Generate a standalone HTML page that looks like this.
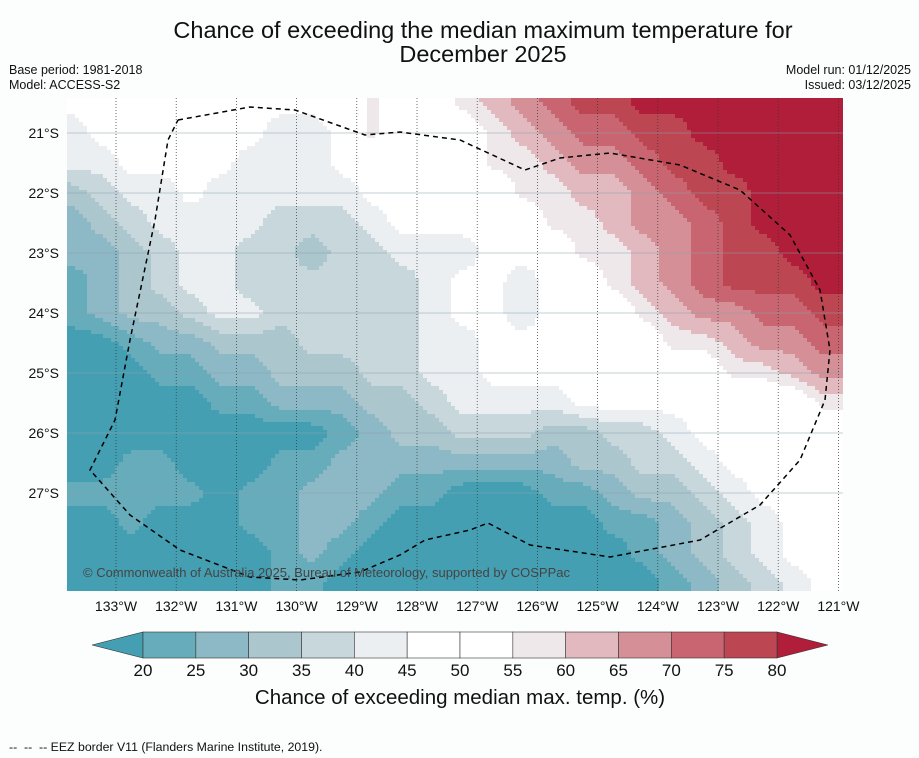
<!DOCTYPE html>
<html><head><meta charset="utf-8"><style>
body{margin:0;background:#fcfdfd;font-family:"Liberation Sans",sans-serif;}
#wrap{position:relative;width:919px;height:758px;overflow:hidden;}
.t{position:absolute;color:#111;white-space:nowrap;}
</style></head><body>
<div id="wrap">
<div class="t" style="left:0;width:966px;top:18px;text-align:center;font-size:23.5px;line-height:24px;">Chance of exceeding the median maximum temperature for<br>December 2025</div>
<div class="t" style="left:9px;top:63px;font-size:12.5px;line-height:15px;">Base period: 1981-2018<br>Model: ACCESS-S2</div>
<div class="t" style="right:8px;top:63px;font-size:12.5px;line-height:15px;text-align:right;">Model run: 01/12/2025<br>Issued: 03/12/2025</div>
<div class="t" style="left:9px;top:740px;font-size:12.3px;">-- &nbsp;-- &nbsp;-- EEZ border V11 (Flanders Marine Institute, 2019).</div>
<svg id="svg" width="919" height="758" style="position:absolute;left:0;top:0"></svg>
</div>
<script>
const lonCenters=[133.75,133.25,132.75,132.25,131.75,131.25,130.75,130.25,129.75,129.25,128.75,128.25,127.75,127.25,126.75,126.25,125.75,125.25,124.75,124.25,123.75,123.25,122.75,122.25,121.75,121.25];
const latCenters=[20.5,21,21.5,22,22.5,23,23.5,24,24.5,25,25.5,26,26.5,27,27.5,28,28.5];
const values=[
[47,47,47,47,47,47,47,47,47,47,57,47,47,57,62,67,72,77,77,82,82,82,82,82,82,82],
[42,47,47,47,47,47,47,42,42,47,57,47,47,47,57,62,67,72,72,77,77,82,82,82,82,82],
[42,42,47,47,47,47,42,42,42,47,47,47,47,47,57,57,62,67,67,72,77,77,82,82,82,82],
[32,37,42,42,47,42,42,42,42,42,47,47,47,47,47,57,57,62,62,67,72,77,77,82,82,82],
[27,32,37,42,42,42,42,37,37,37,42,47,47,47,47,47,57,57,62,67,67,72,77,82,82,82],
[27,27,32,37,42,42,37,37,32,37,37,42,42,42,47,47,47,57,57,62,67,72,77,77,82,82],
[22,27,32,37,42,42,37,37,37,37,37,37,42,47,47,42,47,47,57,62,67,72,77,77,77,82],
[22,27,32,32,37,42,42,37,37,37,37,37,42,47,47,42,47,47,47,57,62,67,67,72,72,77],
[17,17,22,27,27,32,32,32,37,37,37,37,42,42,47,47,47,47,47,47,57,57,62,67,67,72],
[17,17,17,22,22,27,27,32,32,32,37,37,42,42,47,47,47,47,47,47,47,47,57,57,62,67],
[17,17,17,17,17,22,22,27,27,27,32,32,37,42,42,42,42,47,47,47,47,47,47,47,47,57],
[17,17,17,17,17,17,17,17,17,22,27,32,32,37,37,37,32,32,37,37,42,47,47,47,47,47],
[17,17,22,22,17,17,17,22,22,27,27,27,27,27,27,27,27,32,32,37,37,42,47,47,47,47],
[22,22,22,22,22,17,22,22,27,27,27,22,22,17,17,17,22,22,27,32,32,37,42,47,47,47],
[17,17,22,17,17,17,22,22,27,27,22,17,17,17,17,17,17,17,22,22,27,32,37,42,47,47],
[17,17,17,17,17,17,17,22,27,22,17,17,17,17,17,17,17,17,17,22,27,32,37,42,47,47],
[17,17,17,17,17,17,17,22,22,17,17,17,17,17,17,17,17,17,17,17,22,27,32,37,42,47]];
const levels=[20,25,30,35,40,45,50,55,60,65,70,75,80];
const colors=['#459fb2','#66acbb','#8cb9c5','#abc6cd','#c8d7dc','#ebeff2','#ffffff','#ffffff','#eee8ea','#e1b9bf','#d58f97','#c96570','#bd4653','#b01e3a'];
const lonTicks=[133,132,131,130,129,128,127,126,125,124,123,122,121];
const latTicks=[21,22,23,24,25,26,27];
const NS='http://www.w3.org/2000/svg';
const svg=document.getElementById('svg');
const X0=67,X1=843,Y0=98,Y1=591;
function xs(lon){return 116+(133-lon)*60.2;}
function ys(lat){return 133+(lat-21)*60;}
function el(t,a){const e=document.createElementNS(NS,t);for(const k in a)e.setAttribute(k,a[k]);return e;}
function colorFor(v){let i=0;while(i<levels.length&&v>=levels[i])i++;return colors[i];}
const defs=el('defs',{});const cp=el('clipPath',{id:'clip'});cp.appendChild(el('rect',{x:X0,y:Y0,width:X1-X0,height:Y1-Y0}));defs.appendChild(cp);svg.appendChild(defs);
const g=el('g',{'clip-path':'url(#clip)'});


svg.appendChild(g);
function sample(lon,lat){
  let fc=(lonCenters[0]-lon)/0.5, fr=(lat-latCenters[0])/0.5;
  fc=Math.max(0,Math.min(lonCenters.length-1.001,fc));fr=Math.max(0,Math.min(latCenters.length-1.001,fr));
  const c=Math.floor(fc),r=Math.floor(fr),dc=fc-c,dr=fr-r;
  return values[r][c]*(1-dc)*(1-dr)+values[r][c+1]*dc*(1-dr)+values[r+1][c]*(1-dc)*dr+values[r+1][c+1]*dc*dr;
}
const S=4;
for(let y=Y0;y<Y1;y+=S){for(let x=X0;x<X1;x+=S){
  const lon=133-(x+S/2-116)/60.2, lat=21+(y+S/2-133)/60;
  const r=el('rect',{x:x,y:y,width:S+0.5,height:S+0.5,fill:colorFor(sample(lon,lat))});
  
  
  g.appendChild(r);
}}
lonTicks.forEach(l=>{const x=xs(l);
  const ln=el('line',{x1:x,y1:Y0,x2:x,y2:Y1,stroke:'#333','stroke-width':0.7,'stroke-dasharray':'1,2'});
  svg.appendChild(ln);
  const t=el('text',{x:x,y:611,'font-size':14,'text-anchor':'middle',fill:'#111'});t.textContent=l+'°W';
  svg.appendChild(t);});
latTicks.forEach(l=>{const y=ys(l);
  const ln=el('line',{x1:X0,y1:y,x2:X1,y2:y,stroke:'#8aa0ad','stroke-width':0.5});
  svg.appendChild(ln);
  const t=el('text',{x:59,y:y+5,'font-size':14,'text-anchor':'end',fill:'#111'});t.textContent=l+'°S';
  svg.appendChild(t);});
const eez=[[178,120],[250,107],[295,110],[365,135],[400,132],[460,140],[525,170],[560,158],[610,153],[680,165],[740,190],[790,235],[820,290],[830,350],[825,400],[800,460],[760,505],[700,540],[610,557],[530,545],[488,523],[470,530],[425,540],[400,555],[360,572],[300,580],[250,577],[180,550],[130,515],[90,470],[115,420],[130,340],[155,220],[168,140],[178,120]];
const p=el('polyline',{points:eez.map(q=>q.join(',')).join(' '),fill:'none',stroke:'#000','stroke-width':1.5,'stroke-dasharray':'5,4','clip-path':'url(#clip)'});
svg.appendChild(p);
const cr=el('text',{x:83,y:577,'font-size':13,fill:'#444'});cr.textContent='© Commonwealth of Australia 2025, Bureau of Meteorology, supported by COSPPac';
svg.appendChild(cr);
const cbX0=143,cbX1=777,cbY=632,cbH=26,sw=(cbX1-cbX0)/12;
const lt=el('polygon',{points:`${cbX0},${cbY} ${cbX0},${cbY+cbH} 92,${cbY+cbH/2}`,fill:colors[0],stroke:'#333','stroke-width':0.6});
svg.appendChild(lt);
const rt=el('polygon',{points:`${cbX1},${cbY} ${cbX1},${cbY+cbH} 828,${cbY+cbH/2}`,fill:colors[13],stroke:'#333','stroke-width':0.6});
svg.appendChild(rt);
for(let i=0;i<12;i++){const r=el('rect',{x:cbX0+i*sw,y:cbY,width:sw,height:cbH,fill:colors[i+1],stroke:'#333','stroke-width':0.6});
  svg.appendChild(r);}
levels.forEach((v,i)=>{const t=el('text',{x:cbX0+i*sw,y:676,'font-size':17,'text-anchor':'middle',fill:'#111'});t.textContent=v;
  svg.appendChild(t);});
const ct=el('text',{x:460,y:704,'font-size':20.5,'text-anchor':'middle',fill:'#111'});ct.textContent='Chance of exceeding median max. temp. (%)';
svg.appendChild(ct);
</script>
</body></html>
